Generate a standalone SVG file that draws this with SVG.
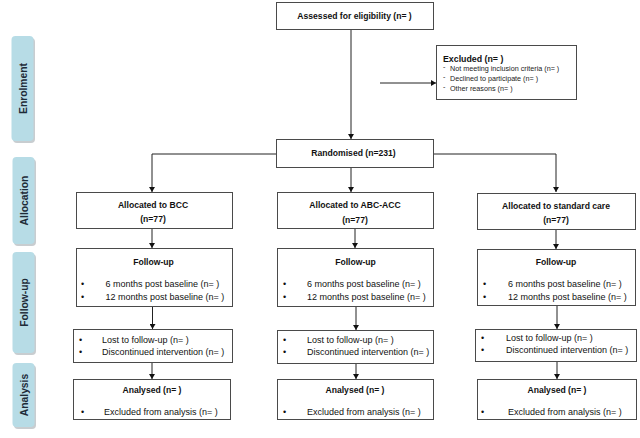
<svg xmlns="http://www.w3.org/2000/svg" width="640" height="438" viewBox="0 0 640 438">
<defs>
<marker id="ah" markerWidth="6" markerHeight="6" refX="5" refY="3" orient="auto" markerUnits="userSpaceOnUse">
<path d="M0,0 L5,3 L0,6 Z" fill="#111"/>
</marker>
<style>
.box{fill:#fff;stroke:#4a4a4a;stroke-width:1}
.side{fill:#b7dce6}
.shadow{fill:#c8cdd0}
.st{font-family:"Liberation Sans",Arial,sans-serif;font-weight:bold;font-size:10.3px;fill:#1e2b38;text-anchor:middle}
.h{font-family:"Liberation Sans",Arial,sans-serif;font-weight:bold;font-size:8.6px;fill:#111;text-anchor:middle}
.t{font-family:"Liberation Sans",Arial,sans-serif;font-size:9px;fill:#111}
.s{font-family:"Liberation Sans",Arial,sans-serif;font-size:7.2px;fill:#222}
.c{fill:none;stroke:#222;stroke-width:1;marker-end:url(#ah)}
</style>
</defs>
<rect width="640" height="438" fill="#fff"/>

<g id="side-enrolment">
<rect class="shadow" x="13" y="38" width="22" height="105" rx="4"/>
<rect class="side" x="11.5" y="36" width="22" height="105" rx="4"/>
<text class="st" transform="translate(26.5,88.5) rotate(-90)">Enrolment</text>
</g>
<g id="side-allocation">
<rect class="shadow" x="14" y="159" width="22" height="87" rx="4"/>
<rect class="side" x="12.5" y="157" width="22" height="87" rx="4"/>
<text class="st" transform="translate(27.5,200.5) rotate(-90)">Allocation</text>
</g>
<g id="side-followup">
<rect class="shadow" x="14" y="254" width="22" height="101" rx="4"/>
<rect class="side" x="12.5" y="252" width="22" height="101" rx="4"/>
<text class="st" transform="translate(27.5,302.5) rotate(-90)">Follow-up</text>
</g>
<g id="side-analysis">
<rect class="shadow" x="14" y="365" width="22" height="64" rx="4"/>
<rect class="side" x="12.5" y="363" width="22" height="64" rx="4"/>
<text class="st" transform="translate(27.5,395) rotate(-90)">Analysis</text>
</g>

<g id="connectors">
<path class="c" d="M351,29 V139"/>
<path class="c" d="M380,83 H436"/>
<path class="c" d="M276,154 H152 V192"/>
<path class="c" d="M351,167 V192"/>
<path class="c" d="M433,154 H556 V192"/>
<path class="c" d="M152,228 V248"/>
<path class="c" d="M152.5,307 V329"/>
<path class="c" d="M152,363 V379"/>
<path class="c" d="M355,228 V248"/>
<path class="c" d="M356,307 V330"/>
<path class="c" d="M356,363 V379"/>
<path class="c" d="M556,229 V249"/>
<path class="c" d="M557,306 V329"/>
<path class="c" d="M557,362 V379"/>
</g>

<g id="assessed">
<rect class="box" x="276.5" y="2.5" width="157" height="27"/>
<text class="h" x="354.5" y="18.5">Assessed  for eligibility (n= )</text>
</g>
<g id="excluded">
<rect class="box" x="436.5" y="45.5" width="140" height="54"/>
<text class="t" x="443" y="61.5" style="font-size:8.8px;font-weight:bold">Excluded (n= )</text>
<text class="s" x="443" y="69">-</text>
<text class="s" x="450" y="70.5">Not meeting inclusion criteria (n=  )</text>
<text class="s" x="443" y="79">-</text>
<text class="s" x="450" y="80.5">Declined to participate (n=  )</text>
<text class="s" x="443" y="89">-</text>
<text class="s" x="450" y="90.5">Other reasons (n=  )</text>
</g>
<g id="randomised">
<rect class="box" x="276.5" y="139.5" width="157" height="28"/>
<text class="h" x="353.5" y="156">Randomised (n=231)</text>
</g>

<g id="alloc-bcc">
<rect class="box" x="76.5" y="192.5" width="156" height="36"/>
<text class="h" x="153" y="207.5">Allocated to BCC</text>
<text class="h" x="153" y="222">(n=77)</text>
</g>
<g id="alloc-abc">
<rect class="box" x="277.5" y="192.5" width="156" height="36"/>
<text class="h" x="355" y="208">Allocated to ABC-ACC</text>
<text class="h" x="355" y="222.5">(n=77)</text>
</g>
<g id="alloc-sc">
<rect class="box" x="477.5" y="193.5" width="158" height="36"/>
<text class="h" x="556" y="208.5">Allocated to standard care</text>
<text class="h" x="556" y="223">(n=77)</text>
</g>

<g id="fu-bcc">
<rect class="box" x="76.5" y="248.5" width="156" height="58"/>
<text class="h" x="153.5" y="265">Follow-up</text>
<text class="t" x="81" y="286.5">•</text>
<text class="t" x="105.5" y="286.5">6 months post baseline (n=  )</text>
<text class="t" x="81" y="299.5">•</text>
<text class="t" x="105.5" y="299.5">12 months post baseline (n=  )</text>
</g>
<g id="fu-abc">
<rect class="box" x="277.5" y="248.5" width="156" height="58"/>
<text class="h" x="355.5" y="265">Follow-up</text>
<text class="t" x="283" y="286.5">•</text>
<text class="t" x="307" y="286.5">6 months post baseline (n=  )</text>
<text class="t" x="283" y="300">•</text>
<text class="t" x="307" y="300">12 months post baseline (n=  )</text>
</g>
<g id="fu-sc">
<rect class="box" x="477.5" y="249.5" width="158" height="56"/>
<text class="h" x="556" y="265">Follow-up</text>
<text class="t" x="483" y="286.5">•</text>
<text class="t" x="508" y="286.5">6 months post baseline (n=  )</text>
<text class="t" x="483" y="300">•</text>
<text class="t" x="508" y="300">12 months post baseline (n=  )</text>
</g>

<g id="lost-bcc">
<rect class="box" x="73.5" y="329.5" width="159" height="33"/>
<text class="t" x="79" y="342.5">•</text>
<text class="t" x="102" y="342.5">Lost to follow-up  (n=  )</text>
<text class="t" x="79" y="354.5">•</text>
<text class="t" x="102" y="354.5">Discontinued intervention  (n=  )</text>
</g>
<g id="lost-abc">
<rect class="box" x="277.5" y="330.5" width="156" height="33"/>
<text class="t" x="283" y="342.5">•</text>
<text class="t" x="307" y="342.5">Lost to follow-up  (n=  )</text>
<text class="t" x="283" y="354.5">•</text>
<text class="t" x="307" y="354.5">Discontinued intervention  (n=  )</text>
</g>
<g id="lost-sc">
<rect class="box" x="475.5" y="329.5" width="161" height="32"/>
<text class="t" x="481" y="340.5">•</text>
<text class="t" x="506" y="340.5">Lost to follow-up  (n=  )</text>
<text class="t" x="481" y="352.5">•</text>
<text class="t" x="506" y="352.5">Discontinued intervention  (n=  )</text>
</g>

<g id="an-bcc">
<rect class="box" x="73.5" y="379.5" width="157" height="40"/>
<text class="h" x="152" y="392.5">Analysed (n= )</text>
<text class="t" x="81" y="414.5">•</text>
<text class="t" x="104" y="414.5">Excluded from analysis (n=  )</text>
</g>
<g id="an-abc">
<rect class="box" x="277.5" y="379.5" width="156" height="40"/>
<text class="h" x="355" y="392.5">Analysed (n= )</text>
<text class="t" x="283" y="414.5">•</text>
<text class="t" x="307" y="414.5">Excluded from analysis (n=  )</text>
</g>
<g id="an-sc">
<rect class="box" x="477.5" y="379.5" width="159" height="40"/>
<text class="h" x="557" y="392.5">Analysed (n= )</text>
<text class="t" x="481" y="414.5">•</text>
<text class="t" x="508" y="414.5">Excluded from analysis (n=  )</text>
</g>
</svg>
